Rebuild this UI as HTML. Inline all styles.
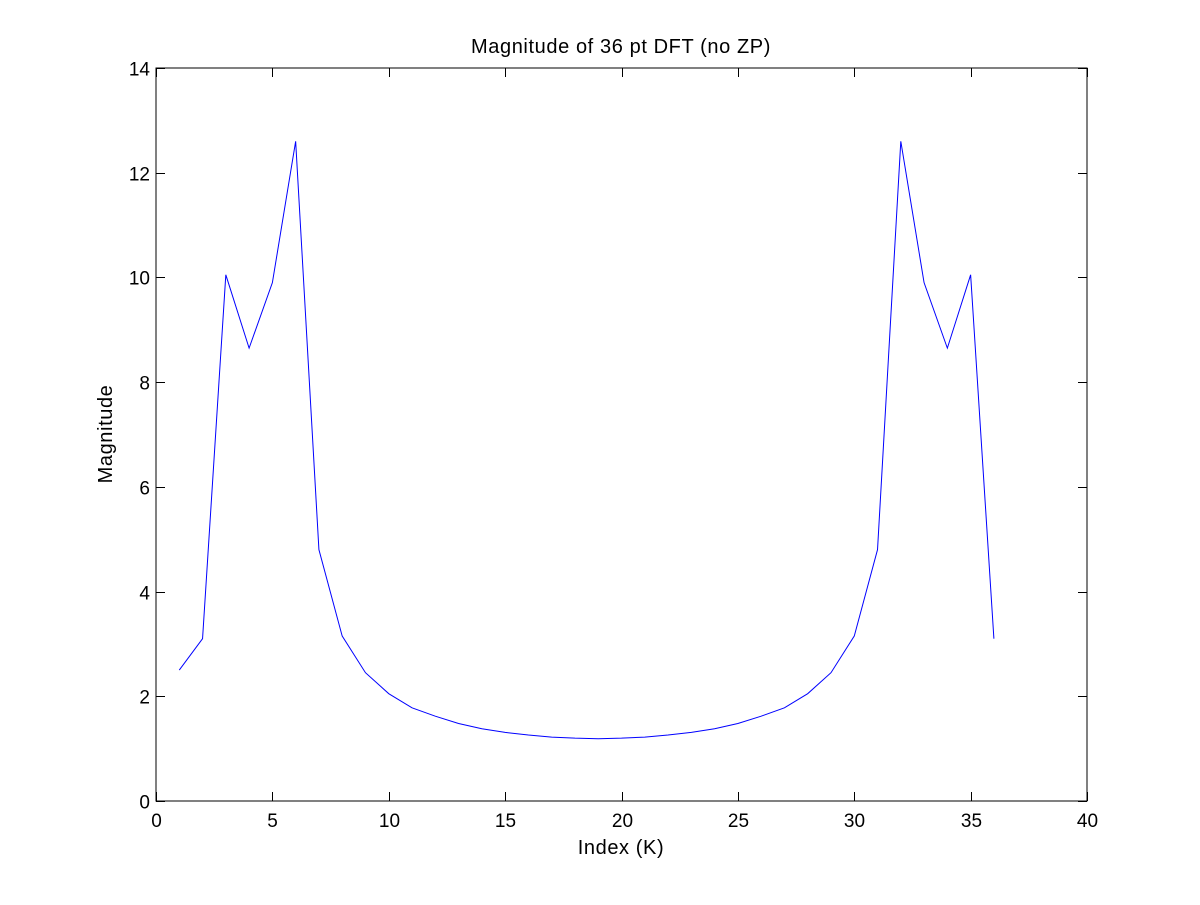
<!DOCTYPE html>
<html><head><meta charset="utf-8"><style>
html,body{margin:0;padding:0;background:#fff;}
svg text{font-family:"Liberation Sans",Arial,sans-serif;font-size:19px;fill:#000;}
</style></head><body>
<svg id="chart" width="1200" height="900" viewBox="0 0 1200 900" xmlns="http://www.w3.org/2000/svg">
<rect width="1200" height="900" fill="#fff"/>
<g id="axes"></g>
<path id="line" fill="none" stroke="#0000ff" stroke-width="1"/>
<text x="621" y="53" text-anchor="middle" style="font-size:20px;letter-spacing:0.6px">Magnitude of 36 pt DFT (no ZP)</text>
<text x="621" y="854" text-anchor="middle" style="font-size:20px;letter-spacing:0.6px">Index (K)</text>
<text transform="translate(112,434) rotate(-90)" text-anchor="middle" style="font-size:20px;letter-spacing:0.6px">Magnitude</text>
</svg>
<script>
const xValues=[1,2,3,4,5,6,7,8,9,10,11,12,13,14,15,16,17,18,19,20,21,22,23,24,25,26,27,28,29,30,31,32,33,34,35,36];
const magnitudes=[2.5,3.1,10.05,8.65,9.9,12.6,4.8,3.15,2.45,2.05,1.78,1.62,1.48,1.38,1.31,1.26,1.22,1.2,1.19,1.2,1.22,1.26,1.31,1.38,1.48,1.62,1.78,2.05,2.45,3.15,4.8,12.6,9.9,8.65,10.05,3.1];
const xTicks=[0,5,10,15,20,25,30,35,40];
const yTicks=[0,2,4,6,8,10,12,14];
const L=156,R=1087,T=68,B=801,X0=0,X1=40,Y0=0,Y1=14;
const sx=v=>L+(v-X0)/(X1-X0)*(R-L);
const sy=v=>B-(v-Y0)/(Y1-Y0)*(B-T);
const ns="http://www.w3.org/2000/svg";
const ax=document.getElementById('axes');
function mk(tag,attrs,parent){const e=document.createElementNS(ns,tag);for(const k in attrs)e.setAttribute(k,attrs[k]);(parent||ax).appendChild(e);return e;}
const frame=mk('rect',{x:L,y:T,width:R-L,height:B-T,fill:'none',stroke:'#000','stroke-width':1});


xTicks.forEach(v=>{
  const x=Math.round(sx(v))+0.5;
  mk('line',{x1:x,x2:x,y1:B,y2:B-9,stroke:'#000'});
  mk('line',{x1:x,x2:x,y1:T,y2:T+9,stroke:'#000'});
  const t=mk('text',{x:x,y:B+26,'text-anchor':'middle'});
  t.textContent=v;
  
  
});
yTicks.forEach(v=>{
  const y=Math.round(sy(v))+0.5;
  mk('line',{x1:L,x2:L+9,y1:y,y2:y,stroke:'#000'});
  mk('line',{x1:R,x2:R-9,y1:y,y2:y,stroke:'#000'});
  const t=mk('text',{x:L-6,y:y+7,'text-anchor':'end'});
  t.textContent=v;
  
  
});
document.getElementById('line').setAttribute('d',xValues.map((x,i)=>(i?'L':'M')+sx(x).toFixed(2)+','+sy(magnitudes[i]).toFixed(2)).join(''));
</script>
</body></html>
